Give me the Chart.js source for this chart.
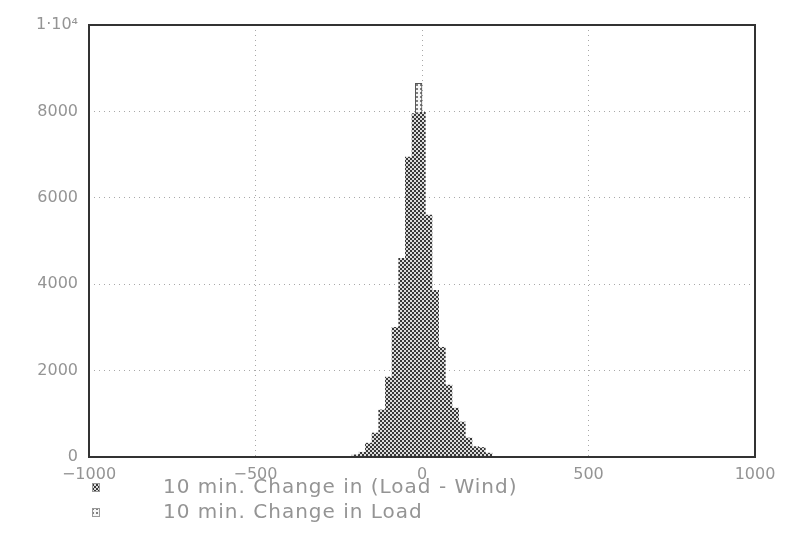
<!DOCTYPE html>
<html>
<head>
<meta charset="utf-8">
<script src="https://cdn.jsdelivr.net/npm/chart.js@4.4.0/dist/chart.umd.min.js"></script>
<style>
  html, body { margin: 0; padding: 0; background: #fff; }
</style>
</head>
<body>
<canvas id="histChart" width="788" height="547"></canvas>
<script>
// Bin centres (20-unit wide bins) and counts
const binCenters = [-200, -180, -160, -140, -120, -100, -80, -60, -40, -20, 0, 20, 40, 60, 80, 100, 120, 140, 160, 180, 200];
const loadWindCounts = [50, 110, 320, 555, 1090, 1850, 3000, 4600, 6940, 7950, 7980, 5600, 3860, 2540, 1665, 1130, 810, 440, 240, 220, 90];

const loadBinCenters = [-50, -30, -10, 10, 30];
const loadCounts = [4400, 6800, 8650, 5400, 3600];

const xTicks = [-1000, -500, 0, 500, 1000];
const yTicks = [0, 2000, 4000, 6000, 8000, 10000];

const seriesLabels = ['10 min. Change in (Load - Wind)', '10 min. Change in Load'];

const labelFont = { family: 'DejaVu Sans', size: 16 };
const textGray = '#949494';

// halftone fill for the bars
function makePattern(dense) {
  const c = document.createElement('canvas');
  c.width = 4; c.height = 4;
  const g = c.getContext('2d');
  g.fillStyle = dense ? '#dcdcdc' : '#f6f6f6';
  g.fillRect(0, 0, 4, 4);
  g.fillStyle = dense ? '#383838' : '#808080';
  g.fillRect(0, 0, 2, 2);
  if (dense) g.fillRect(2, 2, 2, 2);
  return g.createPattern(c, 'repeat');
}

const densePattern = makePattern(true);
const lightPattern = makePattern(false);

// frame around the plot + legend list under the axis
const frameAndLegend = {
  id: 'frameAndLegend',
  afterDraw(chart) {
    const { ctx, chartArea } = chart;
    ctx.save();
    ctx.strokeStyle = '#333';
    ctx.lineWidth = 2;
    ctx.strokeRect(chartArea.left, chartArea.top, chartArea.right - chartArea.left, chartArea.bottom - chartArea.top);

    ctx.font = '20px "DejaVu Sans"';
    ctx.letterSpacing = '1px';
    ctx.fillStyle = textGray;
    ctx.textBaseline = 'middle';
    chart.data.datasets.forEach((ds, i) => {
      const y = 488 + i * 25;
      // small symbol
      ctx.save();
      ctx.fillStyle = ds.backgroundColor;
      ctx.fillRect(92, y - 5, 8, 9);
      ctx.strokeStyle = '#999';
      ctx.lineWidth = 1;
      ctx.strokeRect(92.5, y - 4.5, 7, 8);
      ctx.restore();
      ctx.fillText(ds.label, 163, y);
    });
    ctx.restore();
  }
};

const gridOpts = { color: '#a8a8a8', lineWidth: 1, drawTicks: false, offset: false };

new Chart(document.getElementById('histChart'), {
  type: 'bar',
  data: {
    datasets: [
      {
        label: seriesLabels[0],
        data: binCenters.map((x, i) => ({ x: x, y: loadWindCounts[i] })),
        backgroundColor: densePattern,
        borderWidth: 0,
        grouped: false,
        barPercentage: 1,
        categoryPercentage: 1
      },
      {
        label: seriesLabels[1],
        xAxisID: 'x2',
        data: loadBinCenters.map((x, i) => ({ x: x, y: loadCounts[i] })),
        backgroundColor: lightPattern,
        borderColor: '#555',
        borderWidth: 1,
        grouped: false,
        barPercentage: 1,
        categoryPercentage: 1
      }
    ]
  },
  options: {
    responsive: false,
    animation: false,
    devicePixelRatio: 1,
    layout: { padding: { left: 0, right: 33, top: 25, bottom: 62 } },
    plugins: {
      legend: { display: false },
      tooltip: { enabled: false }
    },
    scales: {
      x: {
        type: 'linear',
        min: -1000,
        max: 1000,
        offset: false,
        afterBuildTicks: s => { s.ticks = xTicks.map(v => ({ value: v })); },
        afterFit: s => { s.height = 28; },
        ticks: {
          font: labelFont,
          color: textGray,
          padding: 8,
          maxRotation: 0,
          callback: v => (v < 0 ? '\u2212' + Math.abs(v) : String(v))
        },
        grid: gridOpts,
        border: { display: false, dash: [1, 4] }
      },
      // same range, only keeps the Load bins' width separate
      x2: {
        type: 'linear',
        min: -1000,
        max: 1000,
        offset: false,
        display: false
      },
      y: {
        min: 0,
        max: 10000,
        afterBuildTicks: s => { s.ticks = yTicks.map(v => ({ value: v })); },
        afterFit: s => { s.width = 89; },
        ticks: {
          font: labelFont,
          color: textGray,
          padding: 11,
          callback: v => (v === 10000 ? '1\u00b710\u2074' : String(v))
        },
        grid: gridOpts,
        border: { display: false, dash: [1, 4] }
      }
    }
  },
  plugins: [frameAndLegend]
});
</script>
</body>
</html>
